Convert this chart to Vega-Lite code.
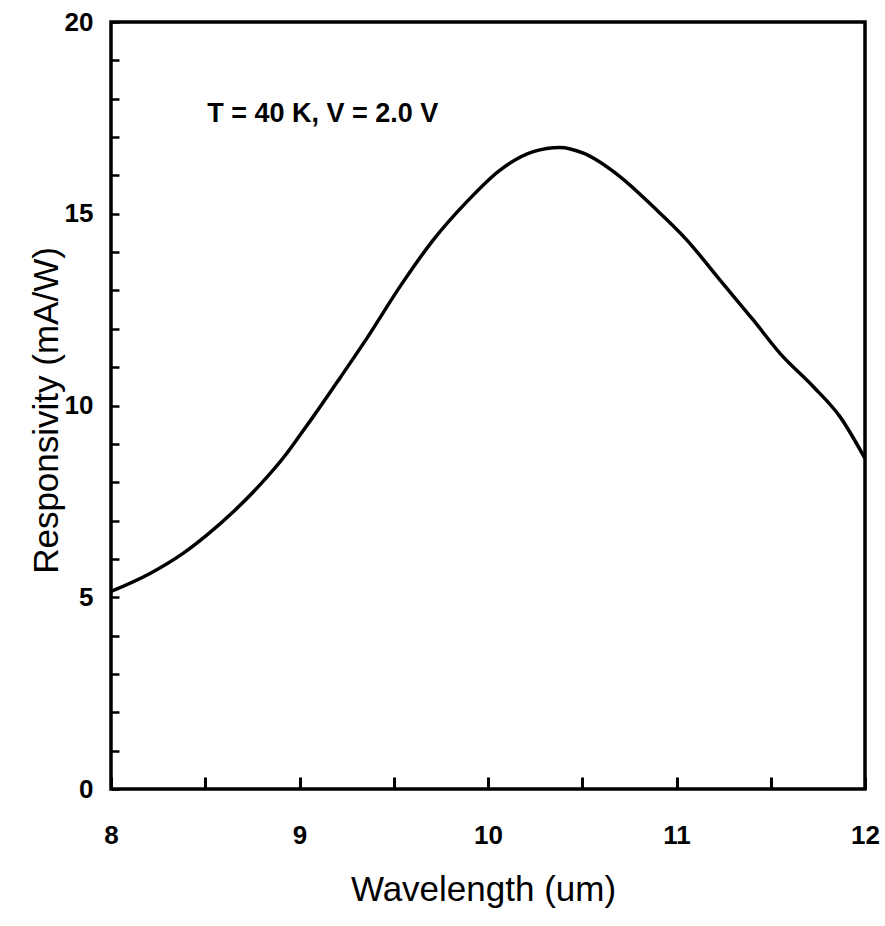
{
  "$schema": "https://vega.github.io/schema/vega-lite/v6.json",
  "width": 754,
  "height": 767,
  "autosize": {"type": "none"},
  "padding": {"left": 111, "top": 22, "right": 20, "bottom": 137},
  "background": "white",
  "config": {
    "view": {"stroke": "black", "strokeWidth": 3.5},
    "font": "Liberation Sans",
    "axis": {"grid": false, "domain": false, "tickColor": "black", "labelColor": "black", "titleColor": "black"}
  },
  "datasets": {
    "curve": [
      {"wl": 8.0, "r": 5.15},
      {"wl": 8.207, "r": 5.62},
      {"wl": 8.384, "r": 6.15},
      {"wl": 8.508, "r": 6.62},
      {"wl": 8.649, "r": 7.23},
      {"wl": 8.79, "r": 7.93},
      {"wl": 8.932, "r": 8.75},
      {"wl": 9.003, "r": 9.23},
      {"wl": 9.073, "r": 9.71},
      {"wl": 9.215, "r": 10.72},
      {"wl": 9.357, "r": 11.75},
      {"wl": 9.533, "r": 13.1},
      {"wl": 9.71, "r": 14.32},
      {"wl": 9.887, "r": 15.31},
      {"wl": 10.064, "r": 16.14},
      {"wl": 10.24, "r": 16.62},
      {"wl": 10.382, "r": 16.73},
      {"wl": 10.506, "r": 16.58},
      {"wl": 10.7, "r": 15.97},
      {"wl": 10.877, "r": 15.18},
      {"wl": 11.054, "r": 14.32},
      {"wl": 11.231, "r": 13.27},
      {"wl": 11.407, "r": 12.23},
      {"wl": 11.549, "r": 11.36},
      {"wl": 11.726, "r": 10.49},
      {"wl": 11.867, "r": 9.71},
      {"wl": 12.0, "r": 8.62}
    ],
    "note": [{"wl": 8.51, "r": 17.6, "label": "T = 40 K, V = 2.0 V"}]
  },
  "layer": [
    {
      "data": {"name": "curve"},
      "mark": {"type": "line", "color": "black", "strokeWidth": 3.5, "interpolate": "monotone", "clip": true},
      "encoding": {
        "x": {
          "field": "wl", "type": "quantitative",
          "scale": {"domain": [8, 12], "nice": false, "zero": false},
          "axis": {
            "title": "Wavelength (um)",
            "values": [8, 8.5, 9, 9.5, 10, 10.5, 11, 11.5, 12],
            "labelExpr": "datum.value % 1 === 0 ? format(datum.value, 'd') : ''",
            "labelOverlap": false,
            "labelFlush": false,
            "tickSize": -12,
            "tickWidth": 3,
            "labelPadding": 45,
            "labelFontSize": 26,
            "labelFontWeight": "bold",
            "titleFontSize": 35,
            "titleFontWeight": "normal",
            "titleBaseline": "alphabetic",
            "titleY": 111,
            "titleX": 372
          }
        },
        "y": {
          "field": "r", "type": "quantitative",
          "scale": {"domain": [0, 20], "nice": false},
          "axis": {
            "orient": "left",
            "title": "Responsivity (mA/W)",
            "values": [0, 1, 2, 3, 4, 5, 6, 7, 8, 9, 10, 11, 12, 13, 14, 15, 16, 17, 18, 19, 20],
            "labels": false,
            "tickSize": -8,
            "tickWidth": 2.5,
            "titleFontSize": 35,
            "titleFontWeight": "normal",
            "titleBaseline": "alphabetic",
            "titleX": -54,
            "titleY": 388
          }
        }
      }
    },
    {
      "data": {"name": "note"},
      "mark": {"type": "text", "align": "left", "baseline": "middle", "fontSize": 27, "fontWeight": "bold", "color": "black", "font": "Liberation Sans"},
      "encoding": {
        "x": {"field": "wl", "type": "quantitative"},
        "y": {
          "field": "r", "type": "quantitative",
          "axis": {
            "orient": "left",
            "title": null,
            "values": [0, 5, 10, 15, 20],
            "format": "d",
            "ticks": false,
            "labelOverlap": false,
            "labelFlush": false,
            "labelPadding": 18,
            "labelFontSize": 26,
            "labelFontWeight": "bold"
          }
        },
        "text": {"field": "label"}
      }
    }
  ],
  "resolve": {"axis": {"y": "independent"}}
}
